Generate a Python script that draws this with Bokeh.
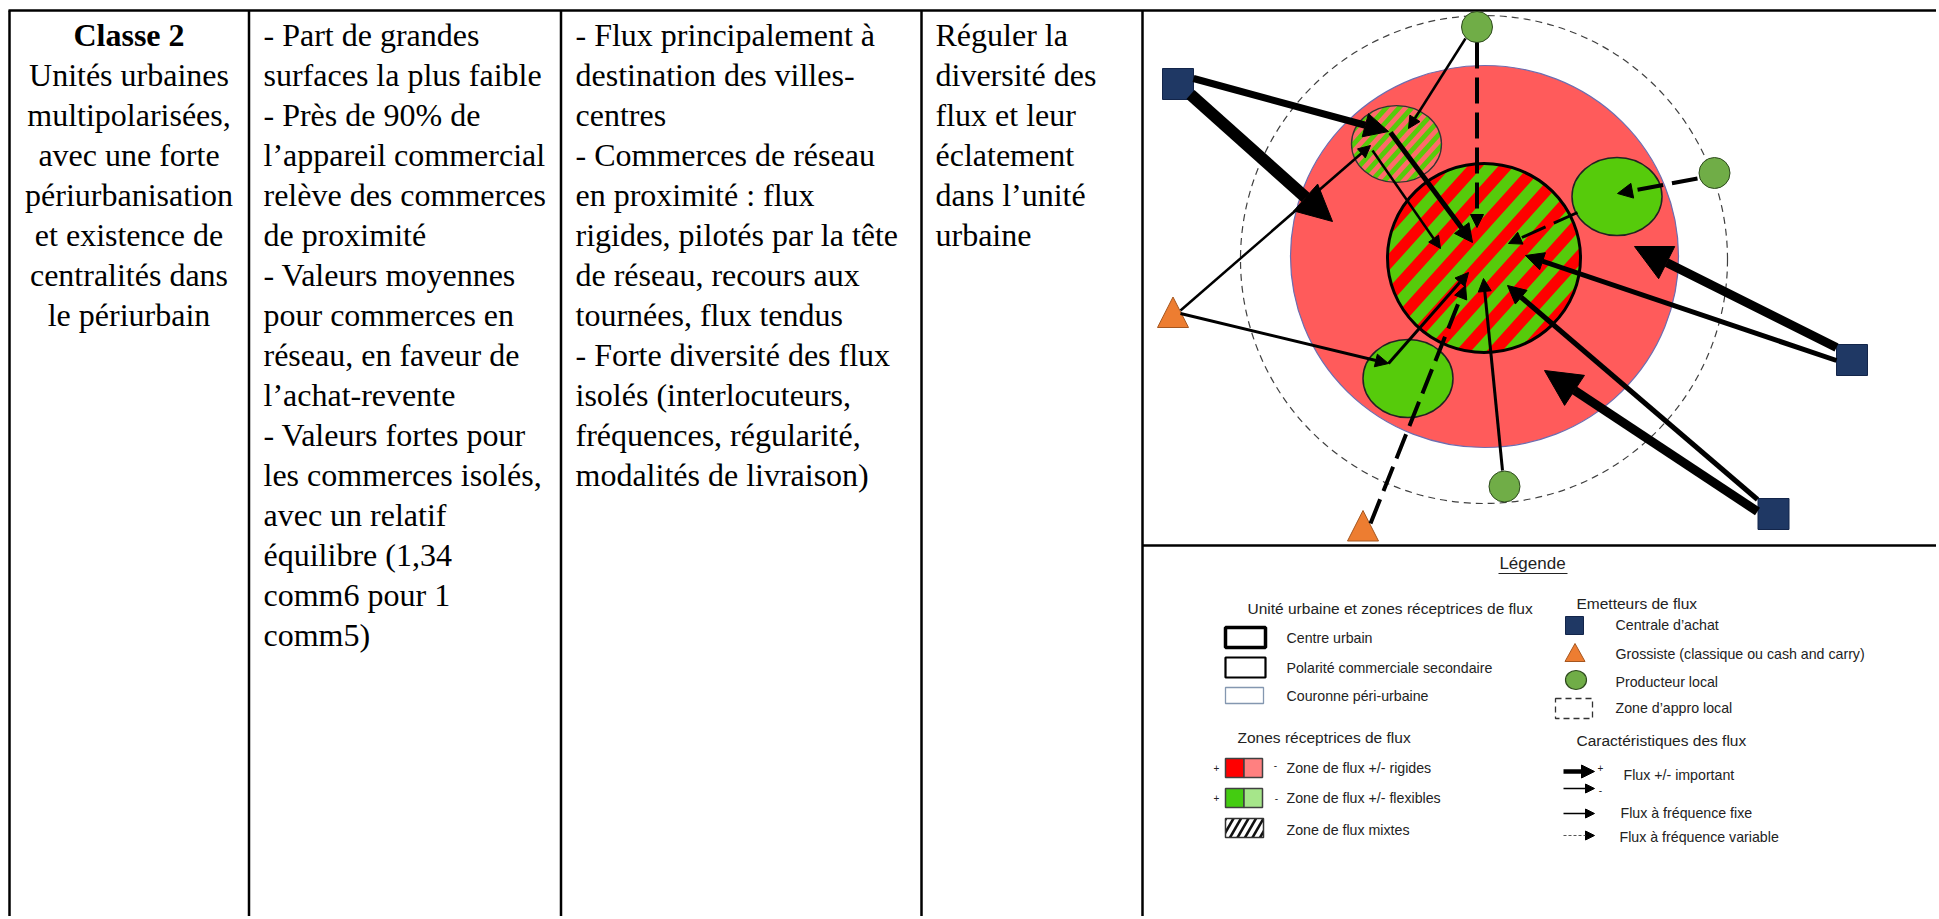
import math
from bokeh.plotting import figure
from bokeh.models import Range1d, Arrow, NormalHead, ColumnDataSource
from bokeh.embed import file_html
from bokeh.resources import INLINE
from bokeh.core.properties import value

# ---------------- data ----------------
col1_lines = ["Classe 2", "Unités urbaines", "multipolarisées,", "avec une forte",
              "périurbanisation", "et existence de", "centralités dans", "le périurbain"]
col2_lines = ["- Part de grandes", "surfaces la plus faible", "- Près de 90% de",
              "l’appareil commercial", "relève des commerces", "de proximité",
              "- Valeurs moyennes", "pour commerces en", "réseau, en faveur de",
              "l’achat-revente", "- Valeurs fortes pour", "les commerces isolés,",
              "avec un relatif", "équilibre (1,34", "comm6 pour 1", "comm5)"]
col3_lines = ["- Flux principalement à", "destination des villes-", "centres",
              "- Commerces de réseau", "en proximité : flux", "rigides, pilotés par la tête",
              "de réseau, recours aux", "tournées, flux tendus", "- Forte diversité des flux",
              "isolés (interlocuteurs,", "fréquences, régularité,", "modalités de livraison)"]
col4_lines = ["Réguler la", "diversité des", "flux et leur", "éclatement", "dans l’unité", "urbaine"]

# zones (centre x, centre y, width, height)
outer_zone = (1483.5, 259, 487, 488)
couronne = (1484, 256, 388, 382)
centre_urbain = (1483.5, 257.5, 193, 189)
polarite_mixte = (1396, 143.5, 90, 77)
polarites_vertes_x = [1616.5, 1407.5]
polarites_vertes_y = [196, 378]

# emitters
centrale_x = [1177.5, 1851.5, 1773]
centrale_y = [83.5, 359.5, 513.5]
grossiste_x = [1172.5, 1362.5]
grossiste_y = [312, 525.5]
producteur_x = [1476.5, 1714, 1504]
producteur_y = [26.5, 172.5, 486]

# flows
flow_x0 = [1193, 1190, 1465, 1476.5, 1390, 1372, 1180, 1180, 1388, 1370, 1502, 1836, 1836, 1757, 1757, 1697, 1577]
flow_y0 = [78, 94, 38, 42, 132, 150, 310, 313, 363, 523, 470, 360, 347, 499, 511, 178, 212]
flow_x1 = [1388, 1332, 1408, 1476.5, 1472, 1440, 1370, 1388, 1468, 1465, 1483, 1525, 1634, 1507, 1544, 1617, 1508]
flow_y1 = [131, 221, 128, 227, 242, 248, 145, 363, 272, 285, 278, 255, 246, 285, 370, 193, 243]
flow_w = [7, 12, 2.5, 4, 5, 2.5, 2.5, 3, 3, 4, 3, 5, 9, 5, 9, 4, 3]
flow_head = [24, 36, 12, 13, 18, 12, 12, 13, 13, 13, 13, 18, 36, 18, 36, 15, 13]
flow_dashed = [False, False, False, True, False, False, False, False, False, True, False,
               False, False, False, False, True, True]

# ---------------- figure ----------------
W, H = 1936, 916
p = figure(width=W, height=H, x_range=Range1d(0, W), y_range=Range1d(H, 0),
           output_backend="svg", toolbar_location=None, min_border=0,
           x_axis_type=None, y_axis_type=None)
p.grid.visible = False
p.outline_line_color = None

# ---------------- table ----------------
RIGHT, BOTTOM = W, H
col_x = [9, 248.5, 560.5, 921, 1142]
p.segment(x0=col_x, y0=[10] * 5, x1=col_x, y1=[BOTTOM] * 5, line_color="black", line_width=2.5)
p.segment(x0=[8, 1142], y0=[10, 545], x1=[RIGHT, RIGHT], y1=[10, 545], line_color="black", line_width=2.5)

BASE, STEP = 34.0, 40.0
serif = value("Liberation Serif")


def col_text(lines, x, align="left", style="normal", start=0):
    src = ColumnDataSource(dict(x=[x] * len(lines),
                                y=[BASE + (start + i) * STEP for i in range(len(lines))], t=lines))
    p.text(x="x", y="y", text="t", source=src, text_font=serif, text_font_size="32px",
           text_align=align, text_baseline="alphabetic", text_color="black", text_font_style=style)


col_text(col1_lines[:1], 128.5, "center", "bold")
col_text(col1_lines[1:], 128.5, "center", "normal", start=1)
col_text(col2_lines, 263)
col_text(col3_lines, 575)
col_text(col4_lines, 935)


# ---------------- helpers ----------------
def ellipse_poly(cx, cy, w, h, n=160):
    return [(cx + w / 2 * math.cos(2 * math.pi * i / n), cy + h / 2 * math.sin(2 * math.pi * i / n)) for i in range(n)]


def clip(poly, nx, ny, c, keep_ge):
    out = []
    L = len(poly)
    for i in range(L):
        a = poly[i]
        b = poly[(i + 1) % L]
        va = nx * a[0] + ny * a[1] - c
        vb = nx * b[0] + ny * b[1] - c
        if not keep_ge:
            va, vb = -va, -vb
        if va >= 0:
            out.append(a)
        if (va >= 0) != (vb >= 0):
            t = va / (va - vb)
            out.append((a[0] + t * (b[0] - a[0]), a[1] + t * (b[1] - a[1])))
    return out


def stripes(poly, normal_deg, period, duty=0.5, phase=0.0):
    t = math.radians(normal_deg)
    nx, ny = math.cos(t), math.sin(t)
    us = [nx * x + ny * y for x, y in poly]
    umin, umax = min(us), max(us)
    u = phase + math.floor((umin - phase) / period) * period
    xs, ys = [], []
    while u < umax:
        part = clip(clip(poly, nx, ny, u, True), nx, ny, u + period * duty, False)
        if len(part) >= 3:
            xs.append([q[0] for q in part])
            ys.append([q[1] for q in part])
        u += period
    return xs, ys


GREEN = "#56CB0B"
SALMON = "#FF5B5B"

# ---------------- diagram ----------------
p.ellipse(x=[outer_zone[0]], y=[outer_zone[1]], width=[outer_zone[2]], height=[outer_zone[3]],
          fill_alpha=0, line_color="#404040", line_width=1.2, line_dash="7 5")
p.ellipse(x=[couronne[0]], y=[couronne[1]], width=[couronne[2]], height=[couronne[3]],
          fill_color=SALMON, line_color="#6D6DB0", line_width=1.2)

# mixed secondary polarity
p.ellipse(x=[polarite_mixte[0]], y=[polarite_mixte[1]], width=[polarite_mixte[2]], height=[polarite_mixte[3]],
          fill_color=GREEN, line_color=None)
sx, sy = stripes(ellipse_poly(*polarite_mixte), 42, 9.5, 0.5, 2)
p.patches(xs=sx, ys=sy, fill_color="#FF6A6A", line_color=None)
p.ellipse(x=[polarite_mixte[0]], y=[polarite_mixte[1]], width=[polarite_mixte[2]], height=[polarite_mixte[3]],
          fill_alpha=0, line_color="#333333", line_width=1.3)

# green polarities
p.ellipse(x=polarites_vertes_x, y=polarites_vertes_y, width=90, height=78,
          fill_color=GREEN, line_color="#222222", line_width=1.5)

# urban centre
p.ellipse(x=[centre_urbain[0]], y=[centre_urbain[1]], width=[centre_urbain[2]], height=[centre_urbain[3]],
          fill_color=GREEN, line_color=None)
cx_, cy_ = stripes(ellipse_poly(*centre_urbain), 42, 23, 0.5, 5)
p.patches(xs=cx_, ys=cy_, fill_color="#FF0000", line_color=None)
p.ellipse(x=[centre_urbain[0]], y=[centre_urbain[1]], width=[centre_urbain[2]], height=[centre_urbain[3]],
          fill_alpha=0, line_color="black", line_width=3)

# flows
for i in range(len(flow_x0)):
    head = NormalHead(size=flow_head[i], fill_color="black", line_color="black", line_width=1)
    p.add_layout(Arrow(end=head, x_start=flow_x0[i], y_start=flow_y0[i], x_end=flow_x1[i], y_end=flow_y1[i],
                       line_color="black", line_width=flow_w[i],
                       line_dash="26 9" if flow_dashed[i] else "solid"))

# emitters
p.rect(x=centrale_x, y=centrale_y, width=31, height=31, fill_color="#1F3864", line_color="#13254A", line_width=1)
tri_xs = [[x, x - 15.5, x + 15.5] for x in grossiste_x]
tri_ys = [[y - 15.5, y + 15, y + 15] for y in grossiste_y]
p.patches(xs=tri_xs, ys=tri_ys, fill_color="#ED7D31", line_color="#A5561F", line_width=1)
p.ellipse(x=producteur_x, y=producteur_y, width=31, height=31, fill_color="#70AD47",
          line_color="#2E4A1E", line_width=1)

# ---------------- legend ----------------
sans = value("Liberation Sans")


def ltext(x, y, t, size="14.2px", align="left", color="#222222"):
    p.text(x=[x], y=[y], text=[t], text_font=sans, text_font_size=size, text_align=align,
           text_baseline="middle", text_color=color)


ltext(1532, 563, "Légende", "17px", "center")
p.segment(x0=[1498], y0=[573], x1=[1567], y1=[573], line_color="#222222", line_width=1)

ltext(1247, 608, "Unité urbaine et zones réceptrices de flux", "15.5px")
p.quad(left=[1225], right=[1265], top=[627], bottom=[647], fill_color="white", line_color="black", line_width=3.5)
p.quad(left=[1225], right=[1265], top=[657], bottom=[677], fill_color="white", line_color="black", line_width=2.2)
p.quad(left=[1225], right=[1263], top=[687], bottom=[703], fill_color="white", line_color="#8497B0", line_width=1.3)
ltext(1286, 637, "Centre urbain")
ltext(1286, 667, "Polarité commerciale secondaire")
ltext(1286, 695, "Couronne péri-urbaine")

ltext(1237, 737, "Zones réceptrices de flux", "15.5px")
p.quad(left=[1225, 1243.5], right=[1243.5, 1262], top=[758, 758], bottom=[777, 777],
       fill_color=["#FF0000", "#FF8080"], line_color="#404040", line_width=1.5)
p.quad(left=[1225, 1243.5], right=[1243.5, 1262], top=[788, 788], bottom=[807, 807],
       fill_color=["#44CC11", "#A6E68A"], line_color="#404040", line_width=1.5)
ltext(1216, 767, "+", "10px", "center")
ltext(1275, 764, "-", "10px", "center")
ltext(1216, 797, "+", "10px", "center")
ltext(1276, 797, "-", "10px", "center")
ltext(1286, 767, "Zone de flux +/- rigides")
ltext(1286, 797, "Zone de flux +/- flexibles")

hatch_box = [(1225, 818), (1263, 818), (1263, 837), (1225, 837)]
p.quad(left=[1225], right=[1263], top=[818], bottom=[837], fill_color="white", line_color=None)
hx, hy = stripes(hatch_box, 30, 6.5, 0.4, 0)
p.patches(xs=hx, ys=hy, fill_color="#111111", line_color=None)
p.quad(left=[1225], right=[1263], top=[818], bottom=[837], fill_alpha=0, line_color="#333333", line_width=1.5)
ltext(1286, 829, "Zone de flux mixtes")

ltext(1576, 603, "Emetteurs de flux", "15.5px")
p.quad(left=[1565], right=[1583], top=[616], bottom=[634], fill_color="#1F3864", line_color="#13254A")
ltext(1615, 624, "Centrale d’achat")
p.patches(xs=[[1574.5, 1564.5, 1584.5]], ys=[[643, 661, 661]], fill_color="#ED7D31", line_color="#A5561F")
ltext(1615, 653, "Grossiste (classique ou cash and carry)")
p.ellipse(x=[1575.5], y=[679.5], width=21, height=19, fill_color="#70AD47", line_color="#2E4A1E", line_width=1.2)
ltext(1615, 681, "Producteur local")
p.quad(left=[1555], right=[1592], top=[698], bottom=[718], fill_alpha=0, line_color="#333333",
       line_width=1.3, line_dash="6 4")
ltext(1615, 707, "Zone d’appro local")

ltext(1576, 740, "Caractéristiques des flux", "15.5px")
leg_arrows = [(771, 4.5, 13, "solid"), (788, 1.5, 9, "solid"), (813, 1.5, 9, "solid"), (835, 1, 9, "3 2")]
for yy, lw, hs, dash in leg_arrows:
    p.add_layout(Arrow(end=NormalHead(size=hs, fill_color="black", line_color="black", line_width=1),
                       x_start=1563, y_start=yy, x_end=1594, y_end=yy,
                       line_color="black" if dash == "solid" else "#555555",
                       line_width=lw, line_dash=dash))
ltext(1600, 767, "+", "10px", "center")
ltext(1600, 789, "-", "10px", "center")
ltext(1623, 774, "Flux +/- important")
ltext(1620, 812, "Flux à fréquence fixe")
ltext(1619, 836, "Flux à fréquence variable")

open("out.html", "w").write(file_html(p, INLINE))
